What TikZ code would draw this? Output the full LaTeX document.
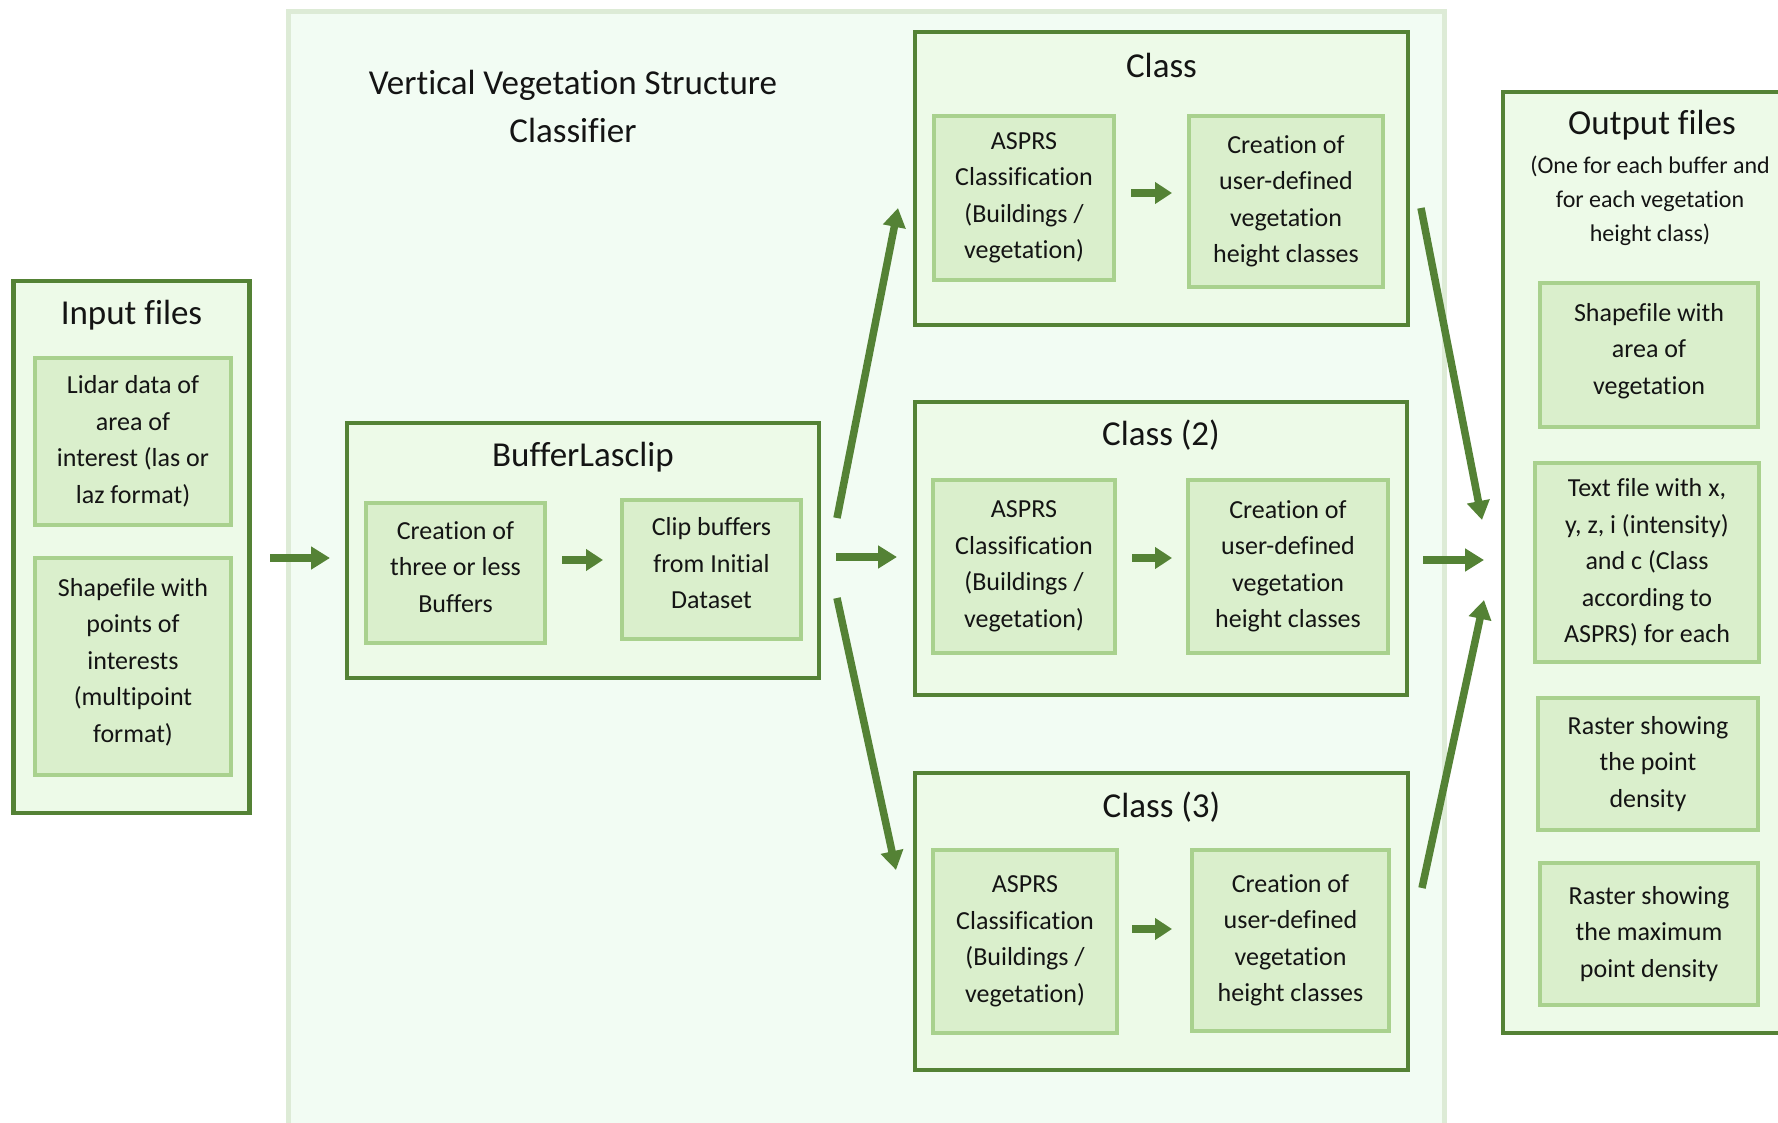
\documentclass[tikz,border=0pt]{standalone}
\usepackage{fontspec}
\setmainfont{Carlito}[Ligatures=NoCommon]
\usetikzlibrary{arrows.meta}

\definecolor{leaf}{RGB}{84,130,53}
\definecolor{boxfill}{RGB}{237,250,232}
\definecolor{cellline}{RGB}{169,209,142}
\definecolor{cellfill}{RGB}{218,239,204}
\definecolor{panelfill}{RGB}{242,252,243}
\definecolor{panelline}{RGB}{221,235,214}
\definecolor{ink}{RGB}{20,20,20}

% an empty closing line that lifts the text block a little
\newcommand{\liftup}{\\[-24pt]\mbox{}}

\begin{document}
\begin{tikzpicture}[x=1pt,y=-1pt,
  groupbox/.style={draw=leaf, line width=4.5pt, fill=boxfill, inner sep=0pt},
  cell/.style={draw=cellline, line width=4pt, fill=cellfill, inner sep=0pt,
    align=center, text=ink, font=\fontsize{26}{36.5}\selectfont},
  heading/.style={inner sep=0pt, text=ink, align=center, font=\fontsize{35}{48}\selectfont},
  subheading/.style={inner sep=0pt, text=ink, align=center, font=\fontsize{24}{34}\selectfont},
  flow/.style={draw=leaf, line width=7.5pt, -{Triangle[length=19pt,width=22pt]}},
  step arrow/.style={draw=leaf, line width=7.5pt, -{Triangle[length=17pt,width=21pt]}}]

\useasboundingbox (0,0) rectangle (1778,1123);
\clip (0,0) rectangle (1778,1123);
\fill[white] (0,0) rectangle (1778,1123);

% classifier panel
\node[draw=panelline, line width=5pt, fill=panelfill, minimum width=1156pt,
      minimum height=1140pt, inner sep=0pt] (panel) at (866,582) {};
\node[heading] (paneltitle) at (573,106) {Vertical Vegetation Structure\\Classifier};

% input files
\node[groupbox, minimum width=236pt, minimum height=532pt] (inp) at (131.5,547) {};
\node[heading] (inptitle) at (131.5,315) {Input files};
\node[cell, minimum width=196pt, minimum height=167pt] (lidar) at (133,441.5)
  {Lidar data of\\area of\\interest (las or\\laz format)};
\node[cell, minimum width=196pt, minimum height=217pt] (shape) at (133,666.5)
  {Shapefile with\\points of\\interests\\(multipoint\\format)\liftup};

% BufferLasclip
\node[groupbox, minimum width=472pt, minimum height=255pt] (buf) at (583,550.5) {};
\node[heading] (buftitle) at (583,457) {BufferLasclip};
\node[cell, minimum width=179pt, minimum height=140pt] (mkbuf) at (455.5,573)
  {Creation of\\three or less\\Buffers\liftup};
\node[cell, minimum width=179pt, minimum height=139pt] (clip) at (711.5,569.5)
  {Clip buffers\\from Initial\\Dataset\liftup};

% class boxes
\node[groupbox, minimum width=493pt, minimum height=293pt] (cls1) at (1161.5,178.5) {};
\node[heading] (cls1title) at (1161.5,65) {Class};
\node[cell, minimum width=180pt, minimum height=164pt] (asp1) at (1024,198)
  {ASPRS\\Classification\\(Buildings /\\vegetation)};
\node[cell, minimum width=194pt, minimum height=171pt] (hgt1) at (1286,201.5)
  {Creation of\\user-defined\\vegetation\\height classes};

\node[groupbox, minimum width=492pt, minimum height=293pt] (cls2) at (1161,548.5) {};
\node[heading] (cls2title) at (1161,435) {Class (2)};
\node[cell, minimum width=182pt, minimum height=173pt] (asp2) at (1024,566.5)
  {ASPRS\\Classification\\(Buildings /\\vegetation)};
\node[cell, minimum width=200pt, minimum height=173pt] (hgt2) at (1288,566.5)
  {Creation of\\user-defined\\vegetation\\height classes};

\node[groupbox, minimum width=493pt, minimum height=297pt] (cls3) at (1161.5,921.5) {};
\node[heading] (cls3title) at (1161.5,807) {Class (3)};
\node[cell, minimum width=184pt, minimum height=183pt] (asp3) at (1025,941.5)
  {ASPRS\\Classification\\(Buildings /\\vegetation)};
\node[cell, minimum width=197pt, minimum height=181pt] (hgt3) at (1290.5,940.5)
  {Creation of\\user-defined\\vegetation\\height classes};

% output files
\node[groupbox, minimum width=300pt, minimum height=941pt] (out) at (1653,562.5) {};
\node[heading] (outtitle) at (1652,125) {Output files};
\node[subheading] (outnote) at (1650,201)
  {(One for each buffer and\\for each vegetation\\height class)};
\node[cell, minimum width=218pt, minimum height=144pt] (area) at (1649,355)
  {Shapefile with\\area of\\vegetation\liftup};
\node[cell, minimum width=224pt, minimum height=199pt] (txt) at (1647,562.5)
  {Text file with x,\\y, z, i (intensity)\\and c (Class\\according to\\ASPRS) for each};
\node[cell, minimum width=220pt, minimum height=132pt] (dens) at (1648,764)
  {Raster showing\\the point\\density};
\node[cell, minimum width=218pt, minimum height=142pt] (maxd) at (1649,934)
  {Raster showing\\the maximum\\point density};

% arrow end points in the gaps between the boxes
\coordinate (inS) at (270,558);   \coordinate (inE) at (330,558);
\coordinate (upS) at (837,518);   \coordinate (upE) at (898,208);
\coordinate (midS) at (836,557);  \coordinate (midE) at (897,557);
\coordinate (dnS) at (837,598);   \coordinate (dnE) at (896,870);
\coordinate (o1S) at (1421,208);  \coordinate (o1E) at (1482,520);
\coordinate (o2S) at (1423,560);  \coordinate (o2E) at (1484,560);
\coordinate (o3S) at (1422,888);  \coordinate (o3E) at (1484,600);

\draw[flow] (inS) -- (inE);
\draw[flow] (upS) -- (upE);
\draw[flow] (midS) -- (midE);
\draw[flow] (dnS) -- (dnE);
\draw[flow] (o1S) -- (o1E);
\draw[flow] (o2S) -- (o2E);
\draw[flow] (o3S) -- (o3E);

% arrows inside the groups
\draw[step arrow] ([xshift=15pt]mkbuf.east |- 0,560) -- ([xshift=-17pt]clip.west |- 0,560);
\draw[step arrow] ([xshift=15pt]asp1.east |- 0,193) -- ([xshift=-15pt]hgt1.west |- 0,193);
\draw[step arrow] ([xshift=15pt]asp2.east |- 0,558) -- ([xshift=-14pt]hgt2.west |- 0,558);
\draw[step arrow] ([xshift=13pt]asp3.east |- 0,929) -- ([xshift=-18pt]hgt3.west |- 0,929);
\end{tikzpicture}
\end{document}
